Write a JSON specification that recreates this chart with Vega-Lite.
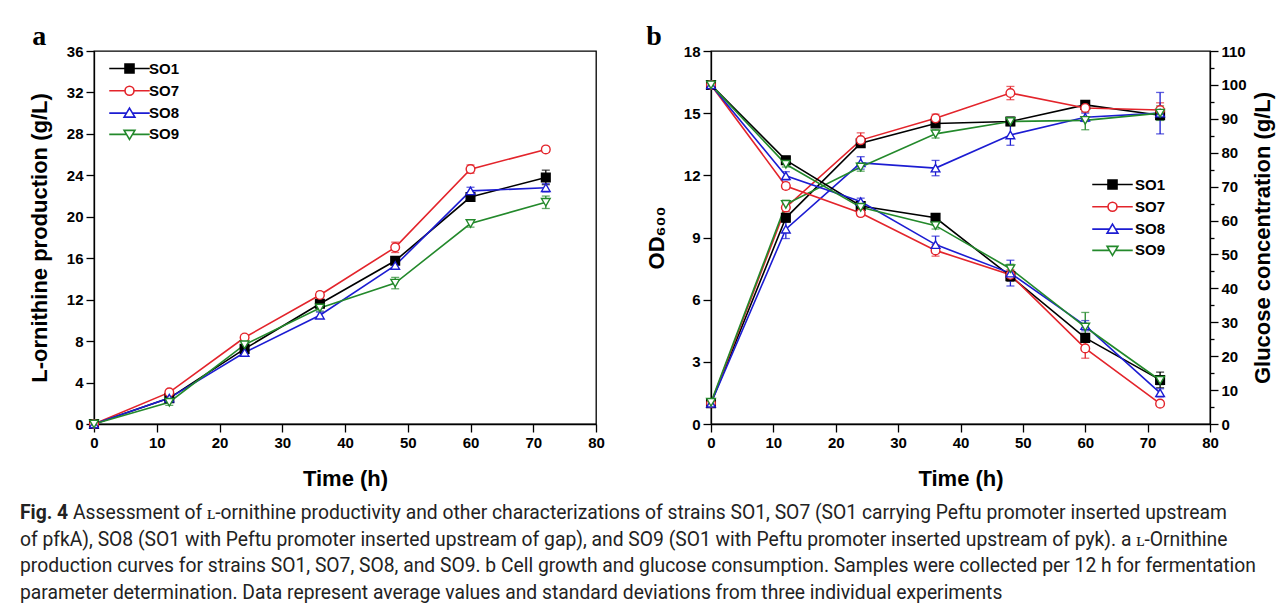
{
  "$schema": "https://vega.github.io/schema/vega-lite/v6.json",
  "background": "white",
  "padding": {"left": 20, "top": 22, "right": 5, "bottom": 5},
  "bounds": "flush",
  "spacing": 449,
  "config": {
    "view": {"stroke": "#000000", "strokeWidth": 1.3},
    "font": "Liberation Sans",
    "axis": {
      "grid": false,
      "domainColor": "#000000", "domainWidth": 1.3,
      "tickColor": "#000000", "tickWidth": 1.3,
      "labelFont": "Liberation Sans", "labelFontWeight": "bold", "labelFontSize": 15, "labelColor": "#000000",
      "titleFont": "Liberation Sans", "titleFontWeight": "bold", "titleFontSize": 22, "titleColor": "#000000",
      "labelOverlap": false, "labelFlush": false, "labelBound": false
    },
    "title": {"font": "Liberation Serif", "fontSize": 28, "fontWeight": "bold", "color": "#000000", "anchor": "start", "baseline": "alphabetic"}
  },
  "datasets": {
    "prod": [
      {"strain": "SO1", "t": 0, "v": 0, "e": 0}, {"strain": "SO1", "t": 12, "v": 2.5, "e": 0.2}, {"strain": "SO1", "t": 24, "v": 7.25, "e": 0.25}, {"strain": "SO1", "t": 36, "v": 11.6, "e": 0.3}, {"strain": "SO1", "t": 48, "v": 15.75, "e": 0.35}, {"strain": "SO1", "t": 60, "v": 21.9, "e": 0.3}, {"strain": "SO1", "t": 72, "v": 23.8, "e": 0.7},
      {"strain": "SO7", "t": 0, "v": 0, "e": 0}, {"strain": "SO7", "t": 12, "v": 3.05, "e": 0.2}, {"strain": "SO7", "t": 24, "v": 8.35, "e": 0.25}, {"strain": "SO7", "t": 36, "v": 12.45, "e": 0.3}, {"strain": "SO7", "t": 48, "v": 17.05, "e": 0.5}, {"strain": "SO7", "t": 60, "v": 24.6, "e": 0.4}, {"strain": "SO7", "t": 72, "v": 26.5, "e": 0.25},
      {"strain": "SO8", "t": 0, "v": 0, "e": 0}, {"strain": "SO8", "t": 12, "v": 2.5, "e": 0.25}, {"strain": "SO8", "t": 24, "v": 6.9, "e": 0.3}, {"strain": "SO8", "t": 36, "v": 10.5, "e": 0.3}, {"strain": "SO8", "t": 48, "v": 15.3, "e": 0.35}, {"strain": "SO8", "t": 60, "v": 22.5, "e": 0.35}, {"strain": "SO8", "t": 72, "v": 22.8, "e": 0.4},
      {"strain": "SO9", "t": 0, "v": 0, "e": 0}, {"strain": "SO9", "t": 12, "v": 2.1, "e": 0.3}, {"strain": "SO9", "t": 24, "v": 7.65, "e": 0.3}, {"strain": "SO9", "t": 36, "v": 11.2, "e": 0.3}, {"strain": "SO9", "t": 48, "v": 13.6, "e": 0.55}, {"strain": "SO9", "t": 60, "v": 19.35, "e": 0.35}, {"strain": "SO9", "t": 72, "v": 21.4, "e": 0.6}
    ],
    "od": [
      {"strain": "SO1", "t": 0, "v": 1.0, "e": 0.05}, {"strain": "SO1", "t": 12, "v": 9.95, "e": 0.2}, {"strain": "SO1", "t": 24, "v": 13.55, "e": 0.2}, {"strain": "SO1", "t": 36, "v": 14.5, "e": 0.15}, {"strain": "SO1", "t": 48, "v": 14.6, "e": 0.2}, {"strain": "SO1", "t": 60, "v": 15.4, "e": 0.15}, {"strain": "SO1", "t": 72, "v": 14.9, "e": 0.2},
      {"strain": "SO7", "t": 0, "v": 1.0, "e": 0.05}, {"strain": "SO7", "t": 12, "v": 10.45, "e": 0.2}, {"strain": "SO7", "t": 24, "v": 13.7, "e": 0.35}, {"strain": "SO7", "t": 36, "v": 14.75, "e": 0.2}, {"strain": "SO7", "t": 48, "v": 15.97, "e": 0.32}, {"strain": "SO7", "t": 60, "v": 15.25, "e": 0.2}, {"strain": "SO7", "t": 72, "v": 15.15, "e": 0.35},
      {"strain": "SO8", "t": 0, "v": 1.0, "e": 0.05}, {"strain": "SO8", "t": 12, "v": 9.4, "e": 0.45}, {"strain": "SO8", "t": 24, "v": 12.6, "e": 0.3}, {"strain": "SO8", "t": 36, "v": 12.35, "e": 0.37}, {"strain": "SO8", "t": 48, "v": 13.95, "e": 0.5}, {"strain": "SO8", "t": 60, "v": 14.8, "e": 0.2}, {"strain": "SO8", "t": 72, "v": 15.0, "e": 1.0},
      {"strain": "SO9", "t": 0, "v": 1.05, "e": 0.05}, {"strain": "SO9", "t": 12, "v": 10.6, "e": 0.2}, {"strain": "SO9", "t": 24, "v": 12.4, "e": 0.2}, {"strain": "SO9", "t": 36, "v": 14.0, "e": 0.2}, {"strain": "SO9", "t": 48, "v": 14.6, "e": 0.15}, {"strain": "SO9", "t": 60, "v": 14.65, "e": 0.45}, {"strain": "SO9", "t": 72, "v": 15.0, "e": 0.35}
    ],
    "glc": [
      {"strain": "SO1", "t": 0, "v": 100, "e": 0.5}, {"strain": "SO1", "t": 12, "v": 77.8, "e": 0.8}, {"strain": "SO1", "t": 24, "v": 64.3, "e": 0.8}, {"strain": "SO1", "t": 36, "v": 60.8, "e": 1.0}, {"strain": "SO1", "t": 48, "v": 43.6, "e": 1.5}, {"strain": "SO1", "t": 60, "v": 25.4, "e": 1.2}, {"strain": "SO1", "t": 72, "v": 13.0, "e": 2.3},
      {"strain": "SO7", "t": 0, "v": 100, "e": 0.5}, {"strain": "SO7", "t": 12, "v": 70.2, "e": 0.9}, {"strain": "SO7", "t": 24, "v": 62.2, "e": 0.8}, {"strain": "SO7", "t": 36, "v": 51.2, "e": 1.7}, {"strain": "SO7", "t": 48, "v": 44.0, "e": 1.5}, {"strain": "SO7", "t": 60, "v": 22.3, "e": 2.9}, {"strain": "SO7", "t": 72, "v": 6.0, "e": 0.8},
      {"strain": "SO8", "t": 0, "v": 100, "e": 0.5}, {"strain": "SO8", "t": 12, "v": 73.2, "e": 1.2}, {"strain": "SO8", "t": 24, "v": 65.6, "e": 1.0}, {"strain": "SO8", "t": 36, "v": 52.9, "e": 2.5}, {"strain": "SO8", "t": 48, "v": 44.5, "e": 3.8}, {"strain": "SO8", "t": 60, "v": 29.0, "e": 1.5}, {"strain": "SO8", "t": 72, "v": 9.2, "e": 1.2},
      {"strain": "SO9", "t": 0, "v": 100, "e": 0.5}, {"strain": "SO9", "t": 12, "v": 76.6, "e": 0.8}, {"strain": "SO9", "t": 24, "v": 63.9, "e": 0.8}, {"strain": "SO9", "t": 36, "v": 58.5, "e": 1.0}, {"strain": "SO9", "t": 48, "v": 45.8, "e": 1.3}, {"strain": "SO9", "t": 60, "v": 28.6, "e": 4.3}, {"strain": "SO9", "t": 72, "v": 12.9, "e": 1.3}
    ],
    "caption": [
      {"line": 1, "lead": "Fig. 4", "text": "Assessment of ʟ-ornithine productivity and other characterizations of strains SO1, SO7 (SO1 carrying Peftu promoter inserted upstream"},
      {"line": 2, "lead": "", "text": "of pfkA), SO8 (SO1 with Peftu promoter inserted upstream of gap), and SO9 (SO1 with Peftu promoter inserted upstream of pyk). a ʟ-Ornithine"},
      {"line": 3, "lead": "", "text": "production curves for strains SO1, SO7, SO8, and SO9. b Cell growth and glucose consumption. Samples were collected per 12 h for fermentation"},
      {"line": 4, "lead": "", "text": "parameter determination. Data represent average values and standard deviations from three individual experiments"}
    ]
  },
  "vconcat": [
    {
      "hconcat": [
        {
          "width": 502, "height": 373,
          "title": {"text": "a", "offset": -7, "dx": 4},
          "layer": [
            {
              "data": {"name": "prod"},
              "mark": {"type": "line", "strokeWidth": 1.6},
              "encoding": {
                "x": {"field": "t", "type": "quantitative", "title": "Time (h)", "scale": {"domain": [0, 80], "nice": false},
                  "axis": {"values": [0,5,10,15,20,25,30,35,40,45,50,55,60,65,70,75,80], "labelExpr": "datum.value % 10 === 0 ? datum.label : ''", "tickSize": {"condition": {"test": "datum.value % 10 === 0", "value": 8}, "value": 4}, "labelPadding": 3, "titlePadding": 18}},
                "y": {"field": "v", "type": "quantitative", "title": "L-ornithine production (g/L)", "scale": {"domain": [0, 36], "nice": false},
                  "axis": {"values": [0,2,4,6,8,10,12,14,16,18,20,22,24,26,28,30,32,34,36], "labelExpr": "datum.value % 4 === 0 ? datum.label : ''", "tickSize": {"condition": {"test": "datum.value % 4 === 0", "value": 8}, "value": 4}, "labelPadding": 3, "titlePadding": 15}},
                "color": {"field": "strain", "type": "nominal", "scale": {"domain": ["SO1","SO7","SO8","SO9"], "range": ["#000000","#e3242b","#1c1cd2","#23892b"]}, "legend": null}
              }
            },
            {
              "data": {"name": "prod"},
              "mark": {"type": "errorbar", "ticks": {"size": 8}, "thickness": 1.3},
              "encoding": {
                "x": {"field": "t", "type": "quantitative", "title": "Time (h)"},
                "y": {"field": "v", "type": "quantitative", "title": "L-ornithine production (g/L)"},
                "yError": {"field": "e"},
                "color": {"field": "strain", "type": "nominal", "scale": {"domain": ["SO1","SO7","SO8","SO9"], "range": ["#000000","#e3242b","#1c1cd2","#23892b"]}, "legend": null}
              }
            },
            {
              "data": {"name": "prod"},
              "mark": {"type": "point", "size": 75, "strokeWidth": 1.4, "opacity": 1},
              "encoding": {
                "x": {"field": "t", "type": "quantitative", "title": "Time (h)"},
                "y": {"field": "v", "type": "quantitative", "title": "L-ornithine production (g/L)"},
                "stroke": {"field": "strain", "type": "nominal", "scale": {"domain": ["SO1","SO7","SO8","SO9"], "range": ["#000000","#e3242b","#1c1cd2","#23892b"]}, "legend": null},
                "fill": {"field": "strain", "type": "nominal", "scale": {"domain": ["SO1","SO7","SO8","SO9"], "range": ["#000000","#ffffff","#ffffff","#ffffff"]}, "legend": null},
                "shape": {"field": "strain", "type": "nominal", "scale": {"domain": ["SO1","SO7","SO8","SO9"], "range": ["square","circle","triangle-up","triangle-down"]}, "legend": null}
              }
            },
            {
              "data": {"values": []},
              "mark": {"type": "point", "strokeWidth": 1.6, "opacity": 1},
              "encoding": {
                "stroke": {"field": "strain", "type": "nominal", "scale": {"domain": ["SO1","SO7","SO8","SO9"], "range": ["#000000","#e3242b","#1c1cd2","#23892b"]},
                  "legend": {"orient": "none", "legendX": 28, "legendY": 10, "title": null, "padding": 0, "symbolSize": 81, "symbolStrokeWidth": 1.6, "labelFont": "Liberation Sans", "labelFontWeight": "bold", "labelFontSize": 15, "labelColor": "#000000", "labelOffset": 12, "rowPadding": 5.3}},
                "fill": {"field": "strain", "type": "nominal", "scale": {"domain": ["SO1","SO7","SO8","SO9"], "range": ["#000000","#ffffff","#ffffff","#ffffff"]}},
                "shape": {"field": "strain", "type": "nominal", "scale": {"domain": ["SO1","SO7","SO8","SO9"], "range": ["M-4.5,0H-1M1,0H4.5M-1,-1H1V1H-1Z", "M-4.5,0H-1M1,0H4.5M-1,0A1,1,0,1,0,1,0A1,1,0,1,0,-1,0Z", "M-4.5,0H-0.66M0.66,0H4.5M0,-1.1L1.2,0.9L-1.2,0.9Z", "M-4.5,0H-0.66M0.66,0H4.5M0,1.1L1.2,-0.9L-1.2,-0.9Z"]}}
              }
            }
          ],
          "resolve": {"scale": {"color": "independent", "stroke": "independent", "fill": "independent", "shape": "independent"}}
        },
        {
          "width": 499, "height": 373,
          "title": {"text": "b", "offset": -7, "dx": 1},
          "layer": [
            {
              "data": {"name": "od"},
              "layer": [
                {
                  "mark": {"type": "line", "strokeWidth": 1.6},
                  "encoding": {
                    "x": {"field": "t", "type": "quantitative", "title": "Time (h)", "scale": {"domain": [0, 80], "nice": false},
                      "axis": {"values": [0,5,10,15,20,25,30,35,40,45,50,55,60,65,70,75,80], "labelExpr": "datum.value % 10 === 0 ? datum.label : ''", "tickSize": {"condition": {"test": "datum.value % 10 === 0", "value": 8}, "value": 4}, "labelPadding": 3, "titlePadding": 18}},
                    "y": {"field": "v", "type": "quantitative", "title": "OD₆₀₀", "scale": {"domain": [0, 18], "nice": false},
                      "axis": {"values": [0,1.5,3,4.5,6,7.5,9,10.5,12,13.5,15,16.5,18], "labelExpr": "datum.value % 3 === 0 ? datum.label : ''", "tickSize": {"condition": {"test": "datum.value % 3 === 0", "value": 8}, "value": 4}, "labelPadding": 3, "titlePadding": 15}},
                    "color": {"field": "strain", "type": "nominal", "scale": {"domain": ["SO1","SO7","SO8","SO9"], "range": ["#000000","#e3242b","#1c1cd2","#23892b"]}, "legend": null}
                  }
                },
                {
                  "mark": {"type": "errorbar", "ticks": {"size": 8}, "thickness": 1.3},
                  "encoding": {
                    "x": {"field": "t", "type": "quantitative", "title": "Time (h)"},
                    "y": {"field": "v", "type": "quantitative", "title": "OD₆₀₀"},
                    "yError": {"field": "e"},
                    "color": {"field": "strain", "type": "nominal", "scale": {"domain": ["SO1","SO7","SO8","SO9"], "range": ["#000000","#e3242b","#1c1cd2","#23892b"]}, "legend": null}
                  }
                },
                {
                  "mark": {"type": "point", "size": 75, "strokeWidth": 1.4, "opacity": 1},
                  "encoding": {
                    "x": {"field": "t", "type": "quantitative", "title": "Time (h)"},
                    "y": {"field": "v", "type": "quantitative", "title": "OD₆₀₀"},
                    "stroke": {"field": "strain", "type": "nominal", "scale": {"domain": ["SO1","SO7","SO8","SO9"], "range": ["#000000","#e3242b","#1c1cd2","#23892b"]}, "legend": null},
                    "fill": {"field": "strain", "type": "nominal", "scale": {"domain": ["SO1","SO7","SO8","SO9"], "range": ["#000000","#ffffff","#ffffff","#ffffff"]}, "legend": null},
                    "shape": {"field": "strain", "type": "nominal", "scale": {"domain": ["SO1","SO7","SO8","SO9"], "range": ["square","circle","triangle-up","triangle-down"]}, "legend": null}
                  }
                }
              ]
            },
            {
              "data": {"name": "glc"},
              "layer": [
                {
                  "mark": {"type": "line", "strokeWidth": 1.6},
                  "encoding": {
                    "x": {"field": "t", "type": "quantitative", "title": "Time (h)"},
                    "y": {"field": "v", "type": "quantitative", "title": "Glucose concentration (g/L)", "scale": {"domain": [0, 110], "nice": false},
                      "axis": {"orient": "right", "titleAngle": 270, "titleBaseline": "top", "values": [0,5,10,15,20,25,30,35,40,45,50,55,60,65,70,75,80,85,90,95,100,105,110], "labelExpr": "datum.value % 10 === 0 ? datum.label : ''", "tickSize": {"condition": {"test": "datum.value % 10 === 0", "value": 8}, "value": 4}, "labelPadding": 3, "titlePadding": 6}},
                    "color": {"field": "strain", "type": "nominal", "scale": {"domain": ["SO1","SO7","SO8","SO9"], "range": ["#000000","#e3242b","#1c1cd2","#23892b"]}, "legend": null}
                  }
                },
                {
                  "mark": {"type": "errorbar", "ticks": {"size": 8}, "thickness": 1.3},
                  "encoding": {
                    "x": {"field": "t", "type": "quantitative", "title": "Time (h)"},
                    "y": {"field": "v", "type": "quantitative", "title": "Glucose concentration (g/L)",
                      "axis": {"orient": "right", "titleAngle": 270, "titleBaseline": "top", "values": [0,5,10,15,20,25,30,35,40,45,50,55,60,65,70,75,80,85,90,95,100,105,110], "labelExpr": "datum.value % 10 === 0 ? datum.label : ''", "tickSize": {"condition": {"test": "datum.value % 10 === 0", "value": 8}, "value": 4}, "labelPadding": 3, "titlePadding": 6}},
                    "yError": {"field": "e"},
                    "color": {"field": "strain", "type": "nominal", "scale": {"domain": ["SO1","SO7","SO8","SO9"], "range": ["#000000","#e3242b","#1c1cd2","#23892b"]}, "legend": null}
                  }
                },
                {
                  "mark": {"type": "point", "size": 75, "strokeWidth": 1.4, "opacity": 1},
                  "encoding": {
                    "x": {"field": "t", "type": "quantitative", "title": "Time (h)"},
                    "y": {"field": "v", "type": "quantitative", "title": "Glucose concentration (g/L)",
                      "axis": {"orient": "right", "titleAngle": 270, "titleBaseline": "top", "values": [0,5,10,15,20,25,30,35,40,45,50,55,60,65,70,75,80,85,90,95,100,105,110], "labelExpr": "datum.value % 10 === 0 ? datum.label : ''", "tickSize": {"condition": {"test": "datum.value % 10 === 0", "value": 8}, "value": 4}, "labelPadding": 3, "titlePadding": 6}},
                    "stroke": {"field": "strain", "type": "nominal", "scale": {"domain": ["SO1","SO7","SO8","SO9"], "range": ["#000000","#e3242b","#1c1cd2","#23892b"]}, "legend": null},
                    "fill": {"field": "strain", "type": "nominal", "scale": {"domain": ["SO1","SO7","SO8","SO9"], "range": ["#000000","#ffffff","#ffffff","#ffffff"]}, "legend": null},
                    "shape": {"field": "strain", "type": "nominal", "scale": {"domain": ["SO1","SO7","SO8","SO9"], "range": ["square","circle","triangle-up","triangle-down"]}, "legend": null}
                  }
                }
              ]
            },
            {
              "data": {"values": []},
              "mark": {"type": "point", "strokeWidth": 1.6, "opacity": 1},
              "encoding": {
                "stroke": {"field": "strain", "type": "nominal", "scale": {"domain": ["SO1","SO7","SO8","SO9"], "range": ["#000000","#e3242b","#1c1cd2","#23892b"]},
                  "legend": {"orient": "none", "legendX": 394, "legendY": 126, "title": null, "padding": 0, "symbolSize": 81, "symbolStrokeWidth": 1.6, "labelFont": "Liberation Sans", "labelFontWeight": "bold", "labelFontSize": 15, "labelColor": "#000000", "labelOffset": 15, "rowPadding": 5.3}},
                "fill": {"field": "strain", "type": "nominal", "scale": {"domain": ["SO1","SO7","SO8","SO9"], "range": ["#000000","#ffffff","#ffffff","#ffffff"]}},
                "shape": {"field": "strain", "type": "nominal", "scale": {"domain": ["SO1","SO7","SO8","SO9"], "range": ["M-4.5,0H-1M1,0H4.5M-1,-1H1V1H-1Z", "M-4.5,0H-1M1,0H4.5M-1,0A1,1,0,1,0,1,0A1,1,0,1,0,-1,0Z", "M-4.5,0H-0.66M0.66,0H4.5M0,-1.1L1.2,0.9L-1.2,0.9Z", "M-4.5,0H-0.66M0.66,0H4.5M0,1.1L1.2,-0.9L-1.2,-0.9Z"]}}
              }
            }
          ],
          "resolve": {"scale": {"y": "independent", "color": "independent", "stroke": "independent", "fill": "independent", "shape": "independent"}}
        }
      ],
      "spacing": 115,
      "bounds": "flush"
    },
    {
      "width": 1180, "height": 106,
      "view": {"stroke": null},
      "data": {"name": "caption"},
      "layer": [
        {
          "transform": [{"filter": "datum.line === 1"}],
          "mark": {"type": "text", "align": "left", "baseline": "middle", "font": "Roboto", "fontSize": 19.3, "fontWeight": "bold", "color": "#222222", "dx": -74},
          "encoding": {
            "x": {"datum": 0, "type": "quantitative", "scale": {"domain": [0, 1]}, "axis": null},
            "y": {"field": "line", "type": "ordinal", "scale": {"domain": [1, 2, 3, 4], "padding": 0.5}, "axis": null},
            "text": {"field": "lead"}
          }
        },
        {
          "transform": [{"filter": "datum.line === 1"}],
          "mark": {"type": "text", "align": "left", "baseline": "middle", "font": "Roboto", "fontSize": 19.3, "color": "#222222", "dx": -21},
          "encoding": {
            "x": {"datum": 0, "type": "quantitative", "scale": {"domain": [0, 1]}, "axis": null},
            "y": {"field": "line", "type": "ordinal", "scale": {"domain": [1, 2, 3, 4], "padding": 0.5}, "axis": null},
            "text": {"field": "text"}
          }
        },
        {
          "transform": [{"filter": "datum.line > 1"}],
          "mark": {"type": "text", "align": "left", "baseline": "middle", "font": "Roboto", "fontSize": 19.3, "color": "#222222", "dx": -74},
          "encoding": {
            "x": {"datum": 0, "type": "quantitative", "scale": {"domain": [0, 1]}, "axis": null},
            "y": {"field": "line", "type": "ordinal", "scale": {"domain": [1, 2, 3, 4], "padding": 0.5}, "axis": null},
            "text": {"field": "text"}
          }
        }
      ]
    }
  ]
}
